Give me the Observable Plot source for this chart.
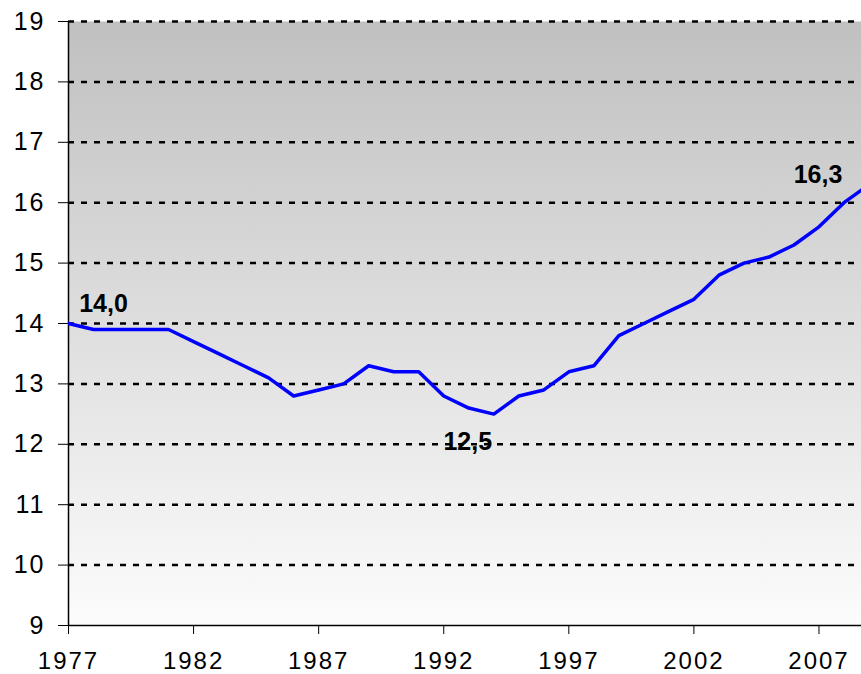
<!DOCTYPE html>
<html><head><meta charset="utf-8">
<script src="https://cdn.jsdelivr.net/npm/d3@7"></script>
<script src="https://cdn.jsdelivr.net/npm/@observablehq/plot@0.6"></script>
<style>
html,body{margin:0;padding:0;background:#fff;}
#chart svg{display:block;overflow:hidden;}
#chart svg g[aria-label^="y-axis"]{font-size:25px !important;}
#chart svg g[aria-label^="y-axis"] text{letter-spacing:2px;}
#chart svg g[aria-label^="x-axis"]{font-size:24px !important;}
#chart svg g[aria-label^="x-axis"] text{letter-spacing:2px;}
</style>
</head><body><div id="chart"></div>
<script>
const years  = [1977,1978,1979,1980,1981,1982,1983,1984,1985,1986,1987,1988,1989,1990,1991,1992,1993,1994,1995,1996,1997,1998,1999,2000,2001,2002,2003,2004,2005,2006,2007,2008,2009];
const values = [14.0,13.9,13.9,13.9,13.9,13.7,13.5,13.3,13.1,12.8,12.9,13.0,13.3,13.2,13.2,12.8,12.6,12.5,12.8,12.9,13.2,13.3,13.8,14.0,14.2,14.4,14.8,15.0,15.1,15.3,15.6,16.0,16.3];
const xTicks = [1977,1982,1987,1992,1997,2002,2007];
const yTicks = [9,10,11,12,13,14,15,16,17,18,19];
const labelYears = [1977,1994,2009];
const xDomain = [1977, 2008.7];
const yDomain = [9, 19];

const data = years.map((year, i) => ({year, value: values[i]}));
const fmt = v => v.toFixed(1).replace(".", ",");
const lab = y => data.filter(d => d.year === y);
const labelStyle = {x: "year", y: "value", text: d => fmt(d.value), fontWeight: "bold", fontSize: 25, fill: "black"};

const chart = Plot.plot({
  width: 861, height: 674,
  marginLeft: 68, marginRight: 0, marginTop: 21, marginBottom: 49,
  style: {fontFamily: "'Liberation Sans', Arial, sans-serif", fontSize: "25px", color: "black", background: "white"},
  x: {domain: xDomain, ticks: xTicks, tickFormat: d => String(d), tickSize: 9, tickPadding: 17, label: null},
  y: {domain: yDomain, ticks: yTicks, tickSize: 10, tickPadding: 13, label: null},
  marks: [
    Plot.frame({fill: "url(#bgGrad)"}),
    Plot.ruleY(yTicks.slice(1), {stroke: "black", strokeWidth: 2.5, strokeDasharray: "6,7"}),
    Plot.ruleY([yDomain[0]], {stroke: "black", strokeWidth: 1.5}),
    Plot.ruleX([xDomain[0]], {stroke: "black", strokeWidth: 1.5}),
    Plot.line(data, {x: "year", y: "value", stroke: "#0000ff", strokeWidth: 3.5, clip: true}),
    Plot.text(lab(labelYears[0]), {...labelStyle, dx: 35, dy: -20}),
    Plot.text(lab(labelYears[1]), {...labelStyle, dx: -26, dy: 28}),
    Plot.text(lab(labelYears[2]), {...labelStyle, dx: -51, dy: -10})
  ]
});

const svg = d3.select(chart.tagName.toLowerCase() === "svg" ? chart : chart.querySelector("svg"));
const grad = svg.insert("defs", ":first-child").append("linearGradient")
  .attr("id", "bgGrad").attr("x1", 0).attr("y1", 0).attr("x2", 0).attr("y2", 1);
grad.append("stop").attr("offset", "0%").attr("stop-color", "#c0c0c0");
grad.append("stop").attr("offset", "100%").attr("stop-color", "#fcfcfc");

document.getElementById("chart").appendChild(chart);
</script>
</body></html>
